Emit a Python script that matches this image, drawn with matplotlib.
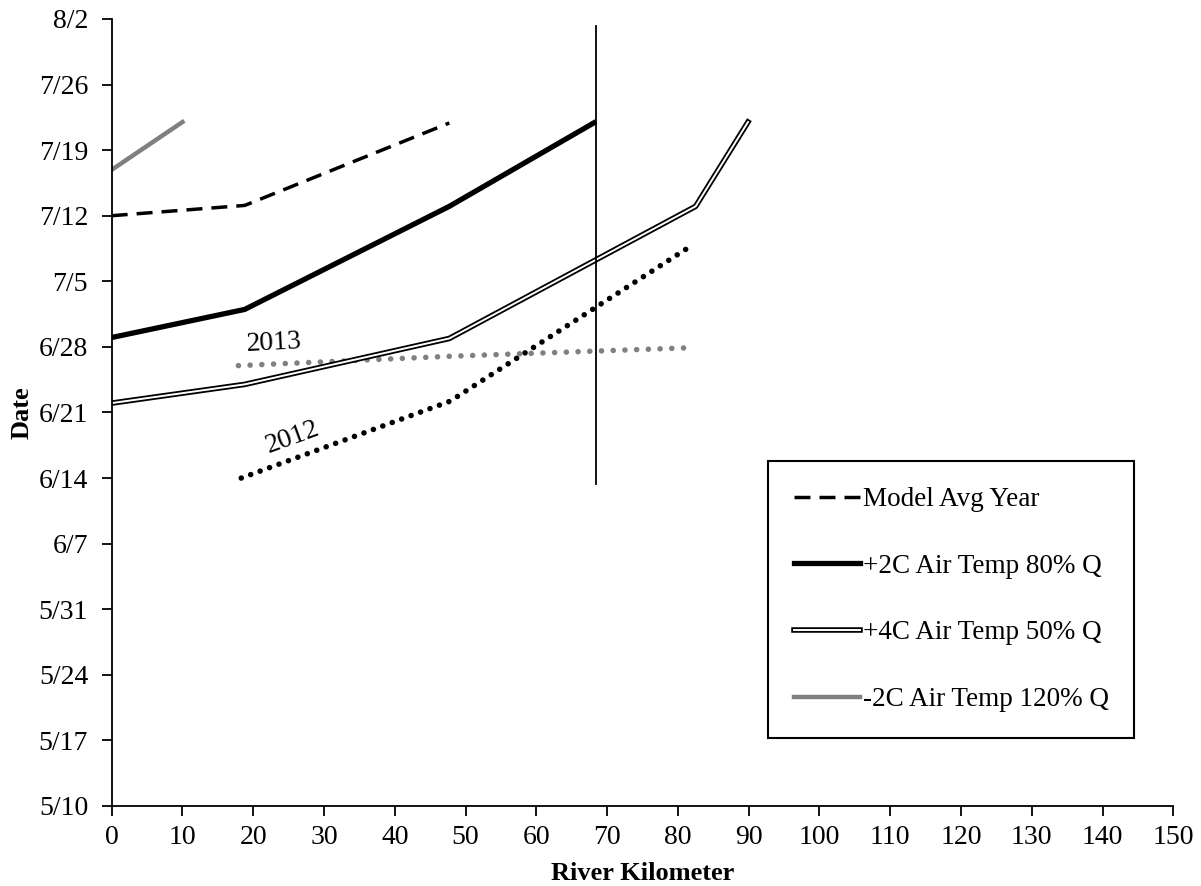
import matplotlib
matplotlib.use('Agg')
import matplotlib.pyplot as plt
import matplotlib.patheffects as pe

plt.rcParams['font.family'] = 'Liberation Serif'
plt.rcParams['font.size'] = 20

# dates are stored as days after 5/10
date_ticks = [0, 7, 14, 21, 28, 35, 42, 49, 56, 63, 70, 77, 84]
date_labels = ['5/10', '5/17', '5/24', '5/31', '6/7', '6/14', '6/21',
               '6/28', '7/5', '7/12', '7/19', '7/26', '8/2']
km_ticks = list(range(0, 151, 10))

avg_km = [0, 18.8, 47.7]
avg_day = [63.0, 64.1, 72.9]

warm2_km = [0, 18.8, 47.7, 68.1]
warm2_day = [50.0, 53.0, 64.0, 72.9]

warm4_km = [0, 18.8, 47.7, 82.5, 89.9]
warm4_day = [43.0, 45.0, 49.9, 64.0, 73.0]

cool2_km = [0, 10.0]
cool2_day = [67.9, 73.0]

obs2012_km = [18.3, 47.8, 81.7]
obs2012_day = [35.0, 43.2, 59.7]

obs2013_km = [17.9, 47.8, 81.3]
obs2013_day = [47.0, 48.0, 48.9]

vline_km = 68.4
vline_days = [34.4, 83.3]

fig = plt.figure(figsize=(12.01, 8.86), dpi=100)
ax = fig.add_axes([0.093, 0.0903, 0.884, 0.8883])

ax.plot(obs2013_km, obs2013_day, color='#808080', lw=4,
        linestyle=(0, (0.01, 2.1)), dash_capstyle='round')
ax.plot(obs2012_km, obs2012_day, color='black', lw=4,
        linestyle=(0, (0.01, 1.8)), dash_capstyle='round')
ax.plot(avg_km, avg_day, color='black', lw=2.5,
        linestyle=(0, (4.6, 2.6)), label='Model Avg Year')
ax.plot(warm2_km, warm2_day, color='black', lw=3.8,
        label='+2C Air Temp 80% Q')
ax.plot(warm4_km, warm4_day, color='white', lw=1.4,
        path_effects=[pe.Stroke(linewidth=4.0, foreground='black'), pe.Normal()],
        label='+4C Air Temp 50% Q')
ax.plot(cool2_km, cool2_day, color='#808080', lw=3.2,
        label='-2C Air Temp 120% Q')
ax.plot([vline_km, vline_km], vline_days, color='black', lw=1.3)

ax.text(22.9, 49.4, '2013', rotation=3, ha='center', va='center', fontsize=20)
ax.text(25.5, 39.3, '2012', rotation=20, ha='center', va='center', fontsize=20)

ax.set_xlim(0, 150)
ax.set_ylim(0, 84)
ax.set_xticks(km_ticks)
ax.set_yticks(date_ticks)
ax.set_yticklabels(date_labels)
ax.tick_params(direction='out', length=7, width=1.3, labelsize=20)
ax.tick_params(axis='y', pad=10)
ax.tick_params(axis='x', pad=7)
ax.spines['top'].set_visible(False)
ax.spines['right'].set_visible(False)
ax.spines['left'].set_linewidth(1.3)
ax.spines['bottom'].set_linewidth(1.3)
ax.set_xlabel('River Kilometer', fontweight='bold', fontsize=19, labelpad=8)
ax.set_ylabel('Date', fontweight='bold', fontsize=19, labelpad=4)

leg = ax.legend(loc='upper left', bbox_to_anchor=(0.618, 0.438),
                borderaxespad=0, frameon=True, fancybox=False,
                edgecolor='black', framealpha=1, labelspacing=1.54,
                handlelength=2.45, handletextpad=0.1, borderpad=0.95,
                fontsize=19.5)
leg.get_frame().set_linewidth(1.5)

plt.savefig('out.png', dpi=100)
